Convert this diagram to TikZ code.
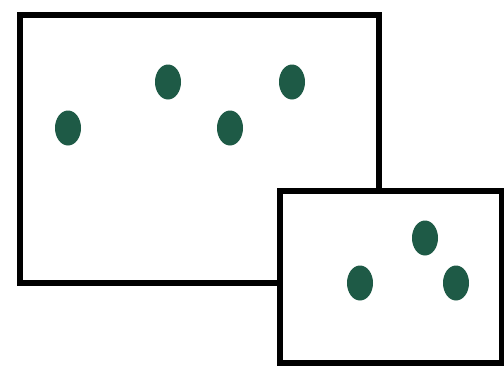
\documentclass[tikz,border=0pt]{standalone}
\definecolor{dotgreen}{HTML}{1E5A46}
\tikzset{
  frame/.style={draw=black, line width=5.5pt, fill=white},
  spot/.style={ellipse, draw=none, fill=dotgreen, minimum width=26pt, minimum height=35pt, inner sep=0pt},
}
\usetikzlibrary{shapes.geometric}
\begin{document}
\begin{tikzpicture}[x=1pt,y=-1pt]
\useasboundingbox (0,0) rectangle (504,365);
\fill[white] (0,0) rectangle (504,365);
\draw[frame] (20,15) rectangle (379,283);
\draw[frame] (280,191) rectangle (502,363);
\node[spot] (a) at (68,128) {};
\node[spot] (b) at (168,82) {};
\node[spot] (c) at (230,128) {};
\node[spot] (d) at (292,82) {};
\node[spot] (e) at (360,283) {};
\node[spot] (f) at (425,238) {};
\node[spot] (g) at (456,283) {};
\end{tikzpicture}
\end{document}
